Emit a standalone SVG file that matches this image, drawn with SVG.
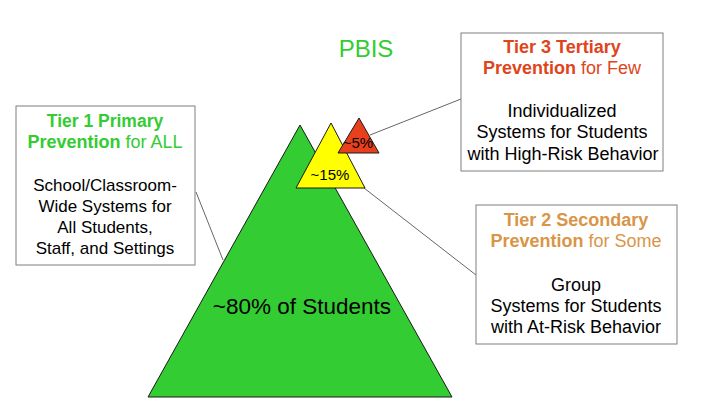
<svg xmlns="http://www.w3.org/2000/svg" width="720" height="405" viewBox="0 0 720 405">
<style>
text{font-family:"Liberation Sans",Arial,sans-serif;font-size:18px;text-anchor:middle;fill:#000}
.s17{font-size:17px}
.b{font-weight:bold}
.box{fill:#fff;stroke:#7f7f7f;stroke-width:1}
.tri{stroke:#1a1a1a;stroke-width:1}
.g{fill:#33cc33}
.r{fill:#e0441a}
.o{fill:#d99547}
.conn line{stroke:#666;stroke-width:1}
</style>
<rect width="720" height="405" fill="#fff"/>
<g id="title"><text x="366" y="57" style="font-size:24px" class="g">PBIS</text></g>
<g class="conn" id="connectors">
<line x1="196" y1="192" x2="223" y2="260"/>
<line x1="370" y1="135" x2="461" y2="99"/>
<line x1="364" y1="188" x2="476" y2="275"/>
</g>
<g id="tier1-triangle">
<polygon class="tri" points="300,125 452,397 148,397" fill="#33cc33"/>
<text x="302" y="314" style="font-size:22.5px">~80% of Students</text>
</g>
<g id="tier2-triangle">
<polygon class="tri" points="331,123 365,188 296,188" fill="#ffff00"/>
<text x="330" y="180" style="font-size:15px">~15%</text>
</g>
<g id="tier3-triangle">
<polygon class="tri" points="359,118 379,153 338,153" fill="#e8401c"/>
<text x="358" y="148" style="font-size:15px">~5%</text>
</g>
<g id="tier1-box">
<rect class="box" x="16" y="106" width="179" height="159"/>
<text x="105" y="127" class="b g" style="font-size:17.5px">Tier 1 Primary</text>
<text x="105" y="148" class="g"><tspan class="b">Prevention</tspan> for ALL</text>
<text x="105" y="191" class="s17">School/Classroom-</text>
<text x="105" y="212" class="s17">Wide Systems for</text>
<text x="105" y="233" class="s17">All Students,</text>
<text x="105" y="254" class="s17">Staff, and Settings</text>
</g>
<g id="tier3-box">
<rect class="box" x="461" y="33" width="202" height="138"/>
<text x="562" y="53" class="b r">Tier 3 Tertiary</text>
<text x="562" y="74" class="r"><tspan class="b">Prevention</tspan> for Few</text>
<text x="562" y="117">Individualized</text>
<text x="562" y="138">Systems for Students</text>
<text x="563" y="160">with High-Risk Behavior</text>
</g>
<g id="tier2-box">
<rect class="box" x="476" y="205" width="201" height="139"/>
<text x="576" y="226" class="b o">Tier 2 Secondary</text>
<text x="576" y="247" class="o"><tspan class="b">Prevention</tspan> for Some</text>
<text x="576" y="291">Group</text>
<text x="576" y="312">Systems for Students</text>
<text x="576" y="333">with At-Risk Behavior</text>
</g>
</svg>
